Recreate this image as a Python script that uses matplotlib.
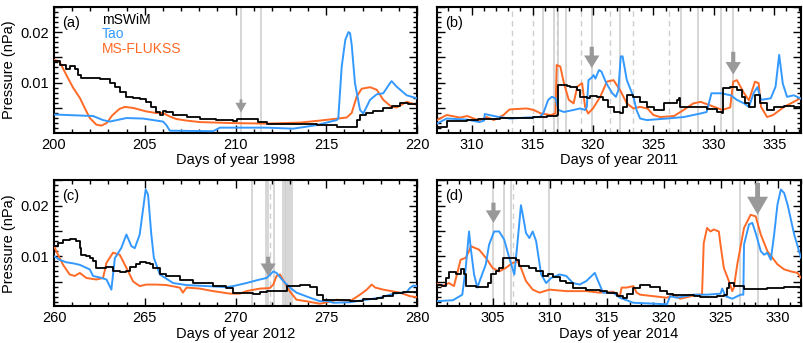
import matplotlib
matplotlib.use('Agg')
import matplotlib.pyplot as plt
from matplotlib.ticker import MultipleLocator, FuncFormatter

plt.rcParams['font.family'] = ['Liberation Sans', 'DejaVu Sans']
plt.rcParams['font.size'] = 10

BLUE = '#3399ff'
ORANGE = '#ff6a26'
GRAY = '#999999'

# ---------------- panel (a), 1998 ----------------
a_msw_day = [200.0, 200.31, 200.68, 200.86, 201.14, 201.32, 201.51, 202.52, 203.07, 203.35, 203.62, 203.99,
             204.36, 204.72, 205.09, 205.37, 205.64, 205.83, 206.01, 206.19, 206.56, 207.30, 208.03, 208.95,
             209.87, 210.06, 210.61, 211.25, 211.71, 213.55, 214.47, 215.39, 215.57, 216.49, 216.67, 216.86,
             217.2, 217.6, 218.1, 218.6, 219.06, 219.5, 220.0]
a_msw_val = [0.0142, 0.0135, 0.0128, 0.0132, 0.0128, 0.0115, 0.0109, 0.0107, 0.0099, 0.0091, 0.0082, 0.0072,
             0.0070, 0.0068, 0.0062, 0.0052, 0.0042, 0.0037, 0.0044, 0.0042, 0.0036, 0.0032, 0.0029, 0.0026,
             0.0025, 0.0029, 0.0028, 0.0023, 0.0019, 0.0018, 0.0017, 0.0016, 0.0013, 0.0013, 0.0026, 0.0036,
             0.0040, 0.0043, 0.0049, 0.0054, 0.0059, 0.0058, 0.0056]
a_tao_day = [200.0, 202.15, 202.70, 203.07, 203.99, 204.90, 205.64, 206.01, 206.19, 206.38, 208.77, 209.14,
             209.87, 211.71, 213.18, 214.47, 215.57, 215.66, 215.85, 216.05, 216.22, 216.31, 216.4, 216.58,
             216.86, 217.04, 217.41, 217.78, 218.14, 218.51, 218.60, 218.88, 219.43, 220.0]
a_tao_val = [0.0037, 0.0034, 0.0026, 0.0023, 0.0030, 0.0029, 0.0025, 0.0023, 0.0016, 0.0005, 0.0004, 0.0011,
             0.0011, 0.0011, 0.0009, 0.0016, 0.0026, 0.0029, 0.0132, 0.0185, 0.0200, 0.0198, 0.0175, 0.0099,
             0.0046, 0.0039, 0.0066, 0.0077, 0.0079, 0.0099, 0.0103, 0.0092, 0.0075, 0.0069]
a_fluk_day = [200.0, 200.3, 200.68, 201.05, 201.42, 201.69, 201.97, 202.33, 202.6, 202.9, 203.2, 203.6, 203.9,
              204.36, 205.09, 205.64, 206.01, 206.38, 206.75, 207.30, 208.03, 209.87, 211.71, 213.55, 214.65,
              215.39, 216.12, 216.40, 216.67, 216.95, 217.41, 217.78, 218.14, 218.60, 218.88, 219.43, 220.0]
a_fluk_val = [0.0145, 0.0142, 0.0115, 0.0090, 0.0070, 0.0050, 0.0030, 0.0017, 0.0015, 0.0020, 0.0035, 0.0048,
              0.0052, 0.0050, 0.0043, 0.0040, 0.0040, 0.0033, 0.0028, 0.0025, 0.0022, 0.0020, 0.0019, 0.0021,
              0.0025, 0.0028, 0.0031, 0.0040, 0.0072, 0.0088, 0.0091, 0.0086, 0.0066, 0.0052, 0.0051, 0.0062,
              0.0056]
a_lines_solid = [210.3, 211.4]
a_lines_dash = []
a_arrows = [(210.3, 0.0067, 0.0041, 'small')]

# ---------------- panel (b), 2011 ----------------
b_msw_day = [307.1, 307.9, 309.56, 310.5, 312.3, 313.14, 315.07, 316.18, 317.01, 317.14, 317.83, 318.11,
             318.39, 318.66, 318.94, 319.49, 319.77, 320.32, 320.87, 321.28, 321.70, 322.25, 322.52, 322.80,
             323.35, 323.91, 324.46, 325.01, 325.56, 325.84, 326.94, 327.08, 327.22, 328.32, 329.42, 330.25,
             330.67, 330.75, 331.35, 331.91, 332.32, 332.60, 332.87, 333.42, 333.84, 334.39, 334.94, 335.77,
             336.6, 337.15]
b_msw_val = [0.0013, 0.0025, 0.0026, 0.0029, 0.0030, 0.0031, 0.0033, 0.0034, 0.0036, 0.0095, 0.0093, 0.0091,
             0.0092, 0.0085, 0.0072, 0.0069, 0.0074, 0.0072, 0.0066, 0.0052, 0.0042, 0.0039, 0.0052, 0.0075,
             0.0072, 0.0062, 0.0052, 0.0046, 0.0046, 0.0059, 0.0066, 0.0069, 0.0052, 0.0051, 0.0047, 0.0042,
             0.0039, 0.0089, 0.0092, 0.0085, 0.0072, 0.0059, 0.0052, 0.0075, 0.0059, 0.0046, 0.0052, 0.0054,
             0.0051, 0.0049]
b_tao_day = [307.1, 307.9, 309.56, 310.6, 311.0, 311.05, 312.0, 313.14, 314.5, 315.6, 315.9, 316.3, 316.6,
             316.9, 317.15, 317.6, 318.4, 318.94, 319.35, 319.49, 319.63, 319.9, 320.05, 320.2, 320.5, 320.7,
             321.1, 321.6, 321.9, 322.1, 322.3, 322.45, 322.8, 323.35, 323.6, 323.9, 324.46, 326.1, 327.5,
             328.9, 329.4, 329.8, 330.6, 331.4, 331.9, 332.5, 332.9, 333.3, 333.6, 333.9, 334.7, 335.1, 335.4,
             335.7, 336.05, 336.6, 337.15]
b_tao_val = [0.0019, 0.0029, 0.0027, 0.0022, 0.0025, 0.0038, 0.0033, 0.0029, 0.0031, 0.0032, 0.0040, 0.0066,
             0.0072, 0.0069, 0.0046, 0.0042, 0.0046, 0.0049, 0.0046, 0.0052, 0.0105, 0.0110, 0.0115, 0.0108,
             0.0125, 0.0122, 0.0099, 0.0079, 0.0072, 0.0085, 0.0152, 0.0152, 0.0105, 0.0072, 0.0046, 0.0029,
             0.0026, 0.0029, 0.0032, 0.0039, 0.0042, 0.0079, 0.0079, 0.0075, 0.0066, 0.0059, 0.0052, 0.0080,
             0.0091, 0.0066, 0.0069, 0.0092, 0.0155, 0.0098, 0.0072, 0.0075, 0.0069]
b_fluk_day = [307.1, 307.9, 309.0, 309.6, 310.6, 311.2, 311.8, 312.6, 313.1, 314.5, 315.1, 315.7, 316.5, 316.9,
              317.0, 317.3, 317.6, 318.0, 318.4, 318.7, 319.1, 319.35, 319.6, 320.0, 320.6, 321.15, 321.7,
              322.25, 322.8, 323.35, 323.9, 324.5, 325.0, 325.56, 326.7, 327.5, 328.3, 328.9, 329.7, 330.7,
              331.35, 331.6, 331.9, 332.2, 332.5, 332.9, 333.4, 333.7, 333.9, 334.4, 334.9, 335.8, 336.6, 337.15]
b_fluk_val = [0.0026, 0.0036, 0.0031, 0.0034, 0.0025, 0.0032, 0.0026, 0.0036, 0.0047, 0.0049, 0.0046, 0.0039,
              0.0036, 0.0039, 0.0135, 0.0132, 0.0099, 0.0066, 0.0059, 0.0092, 0.0099, 0.0052, 0.0039, 0.0049,
              0.0072, 0.0102, 0.0105, 0.0085, 0.0059, 0.0049, 0.0052, 0.0049, 0.0036, 0.0032, 0.0034, 0.0046,
              0.0059, 0.0062, 0.0055, 0.0046, 0.0051, 0.0102, 0.0105, 0.0092, 0.0079, 0.0065, 0.0102, 0.0099,
              0.0052, 0.0032, 0.0036, 0.0052, 0.0062, 0.0069]
b_lines_solid = [315.85, 316.8, 317.1, 317.8, 319.9, 322.2, 327.3, 328.7, 330.6, 331.6]
b_lines_dash = [313.3, 315.0, 317.0, 319.0, 321.4, 323.35, 326.3]
b_arrows = [(319.9, 0.0171, 0.0129, 'mid'), (331.6, 0.0161, 0.0116, 'mid')]

# ---------------- panel (c), 2012 ----------------
c_msw_day = [260.0, 260.22, 260.50, 260.86, 261.23, 261.42, 261.51, 261.78, 261.97, 262.15, 262.33, 262.89,
             263.25, 263.62, 263.99, 264.17, 264.54, 264.72, 265.09, 265.28, 265.46, 265.83, 266.19, 266.93,
             267.67, 268.77, 269.50, 269.87, 270.97, 271.34, 271.71, 272.63, 272.81, 273.55, 274.10, 274.47,
             274.83, 275.20, 276.30, 277.04, 277.78, 278.14, 278.70, 279.25, 280.0]
c_msw_val = [0.0120, 0.0126, 0.0133, 0.0134, 0.0130, 0.0116, 0.0102, 0.0100, 0.0097, 0.0090, 0.0077, 0.0078,
             0.0070, 0.0069, 0.0070, 0.0079, 0.0084, 0.0088, 0.0087, 0.0084, 0.0077, 0.0064, 0.0061, 0.0054,
             0.0047, 0.0041, 0.0037, 0.0028, 0.0026, 0.0029, 0.0031, 0.0031, 0.0041, 0.0043, 0.0039, 0.0024,
             0.0014, 0.0013, 0.0011, 0.0016, 0.0018, 0.0021, 0.0028, 0.0029, 0.0030]
c_tao_day = [260.0, 260.31, 260.68, 261.05, 261.42, 261.78, 261.97, 262.15, 262.52, 262.89, 263.16, 263.35,
             263.7, 263.99, 264.26, 264.45, 264.72, 265.05, 265.18, 265.36, 265.5, 265.83, 266.56, 267.3, 268.4,
             269.5, 269.87, 270.6, 271.34, 271.71, 272.08, 272.26, 272.63, 273.0, 273.36, 274.1, 274.65, 275.0,
             275.39, 276.3, 277.2, 277.96, 278.7, 279.43, 279.6, 279.8, 280.0]
c_tao_val = [0.0100, 0.0093, 0.0088, 0.0086, 0.0083, 0.0077, 0.0074, 0.0061, 0.0058, 0.0054, 0.0034, 0.0096,
             0.0116, 0.0143, 0.0120, 0.0116, 0.0143, 0.0232, 0.0222, 0.0143, 0.0097, 0.0064, 0.0047, 0.0043,
             0.0041, 0.0039, 0.0041, 0.0047, 0.0054, 0.0057, 0.0070, 0.0067, 0.0051, 0.0038, 0.0028, 0.0018,
             0.0011, 0.0012, 0.0008, 0.0009, 0.0014, 0.0018, 0.0026, 0.0029, 0.0037, 0.0042, 0.0041]
c_fluk_day = [260.0, 260.22, 260.50, 260.86, 261.14, 261.42, 261.78, 262.33, 262.70, 262.89, 263.25, 263.62,
              263.99, 264.36, 264.72, 265.09, 265.64, 266.19, 266.93, 267.1, 267.3, 268.03, 268.77, 269.7,
              270.24, 270.6, 271.34, 271.89, 272.08, 272.26, 272.45, 272.72, 273.0, 273.36, 273.9, 274.65,
              275.39, 275.57, 276.3, 276.86, 277.23, 277.5, 277.7, 278.14, 279.06, 279.61, 280.0]
c_fluk_val = [0.0120, 0.0103, 0.0083, 0.0064, 0.0061, 0.0067, 0.0057, 0.0054, 0.0057, 0.0087, 0.0107, 0.0103,
              0.0077, 0.0050, 0.0041, 0.0044, 0.0044, 0.0043, 0.0038, 0.0028, 0.0038, 0.0036, 0.0031, 0.0026,
              0.0026, 0.0031, 0.0036, 0.0037, 0.0044, 0.0061, 0.0064, 0.0047, 0.0030, 0.0014, 0.0011, 0.0006,
              0.0012, 0.0014, 0.0011, 0.0024, 0.0034, 0.0044, 0.0038, 0.0034, 0.0028, 0.0021, 0.0019]
c_lines_solid = [270.9, 271.66, 271.77, 272.1, 272.6, 272.7, 272.8, 272.9, 273.0, 273.1]
c_lines_dash = [271.9]
c_arrows = [(271.8, 0.0099, 0.0061, 'mid')]

# ---------------- panel (d), 2014 ----------------
d_msw_day = [300.0, 300.56, 300.85, 301.15, 301.73, 302.17, 302.47, 302.62, 303.50, 304.08, 304.53, 304.82,
             305.26, 305.55, 305.85, 306.43, 307.02, 307.32, 307.76, 308.20, 308.79, 309.37, 309.81, 310.26,
             310.84, 311.43, 312.02, 313.19, 314.37, 314.96, 315.84, 316.43, 316.72, 317.31, 317.90, 318.78,
             319.66, 320.25, 320.83, 322.60, 323.19, 324.65, 325.24, 325.54, 325.68, 326.12, 327.01, 329.06,
             330.53, 332.0]
d_msw_val = [0.0044, 0.0041, 0.0057, 0.0069, 0.0064, 0.0074, 0.0065, 0.0041, 0.0039, 0.0039, 0.0047, 0.0065,
             0.0070, 0.0077, 0.0097, 0.0097, 0.0093, 0.0080, 0.0080, 0.0077, 0.0070, 0.0061, 0.0064, 0.0059,
             0.0051, 0.0047, 0.0037, 0.0034, 0.0032, 0.0028, 0.0021, 0.0018, 0.0026, 0.0037, 0.0043, 0.0039,
             0.0031, 0.0026, 0.0023, 0.0021, 0.0020, 0.0021, 0.0023, 0.0038, 0.0047, 0.0041, 0.0036, 0.0038,
             0.0039, 0.0041]
d_tao_day = [300.0, 301.5, 302.32, 302.62, 302.91, 303.06, 303.35, 303.64, 303.94, 304.38, 304.67, 305.11,
             305.55, 305.99, 306.43, 306.88, 307.17, 307.46, 307.67, 307.90, 308.20, 308.49, 308.79, 309.23,
             309.67, 310.11, 310.84, 311.43, 312.02, 312.61, 313.19, 313.93, 314.22, 314.66, 315.55, 316.13,
             317.31, 320.25, 320.54, 321.13, 322.60, 323.77, 324.95, 325.10, 325.39, 325.98, 326.71, 326.95,
             327.01, 327.45, 327.74, 328.03, 328.48, 328.77, 329.06, 329.36, 329.65, 329.94, 330.24, 330.53,
             330.83, 331.41, 332.0]
d_tao_val = [0.0011, 0.0013, 0.0024, 0.0077, 0.0149, 0.0116, 0.0064, 0.0038, 0.0057, 0.0084, 0.0123, 0.0149,
             0.0149, 0.0133, 0.0097, 0.0064, 0.0130, 0.0201, 0.0176, 0.0146, 0.0136, 0.0149, 0.0130, 0.0064,
             0.0047, 0.0057, 0.0064, 0.0061, 0.0047, 0.0044, 0.0051, 0.0067, 0.0051, 0.0028, 0.0028, 0.0018,
             0.0008, 0.0005, 0.0021, 0.0018, 0.0024, 0.0024, 0.0026, 0.0036, 0.0021, 0.0016, 0.0024, 0.0024,
             0.0123, 0.0163, 0.0166, 0.0146, 0.0110, 0.0103, 0.0107, 0.0093, 0.0143, 0.0202, 0.0232, 0.0225,
             0.0202, 0.0143, 0.0097]
d_fluk_day = [300.0, 300.56, 301.15, 301.59, 302.17, 302.62, 302.91, 303.06, 303.79, 304.38, 304.97, 305.55,
              306.14, 306.73, 307.17, 307.46, 307.90, 308.49, 309.08, 309.96, 311.43, 313.19, 314.37, 315.55,
              316.13, 316.28, 316.72, 317.31, 317.60, 317.90, 319.07, 320.25, 320.83, 321.42, 322.01, 322.89,
              323.33, 323.48, 323.77, 324.07, 324.36, 324.80, 324.95, 325.24, 325.68, 325.98, 326.12, 326.42,
              327.01, 327.59, 328.03, 328.48, 329.06, 329.94, 330.53, 331.12, 331.71, 332.0]
d_fluk_val = [0.0047, 0.0041, 0.0047, 0.0041, 0.0093, 0.0097, 0.0110, 0.0120, 0.0113, 0.0097, 0.0077, 0.0070,
              0.0077, 0.0087, 0.0090, 0.0077, 0.0051, 0.0034, 0.0028, 0.0034, 0.0031, 0.0031, 0.0028, 0.0030,
              0.0021, 0.0038, 0.0038, 0.0041, 0.0028, 0.0024, 0.0021, 0.0018, 0.0024, 0.0016, 0.0019, 0.0024,
              0.0024, 0.0126, 0.0156, 0.0149, 0.0153, 0.0149, 0.0123, 0.0077, 0.0051, 0.0031, 0.0038, 0.0084,
              0.0156, 0.0182, 0.0179, 0.0143, 0.0110, 0.0084, 0.0074, 0.0070, 0.0067, 0.0057]
d_lines_solid = [305.05, 306.0, 306.6, 309.9, 326.7, 328.2]
d_lines_dash = [306.75]
d_arrows = [(305.05, 0.0206, 0.0166, 'mid'), (328.2, 0.0245, 0.0182, 'big')]

arrow_sizes = {'small': (2, 8, 7), 'mid': (3, 11, 9), 'big': (3.5, 15, 13)}

fig = plt.figure(figsize=(8.04, 3.43), dpi=100)
H = 0.367
ax_a = fig.add_axes([0.0672, 0.6131, 0.4515, H])
ax_b = fig.add_axes([0.5435, 0.6131, 0.4527, H])
ax_c = fig.add_axes([0.0672, 0.1070, 0.4515, H])
ax_d = fig.add_axes([0.5435, 0.1070, 0.4527, H])

panels = [
    (ax_a, '(a)', 1998, (200, 220), a_msw_day, a_msw_val, a_tao_day, a_tao_val, a_fluk_day, a_fluk_val,
     a_lines_solid, a_lines_dash, a_arrows),
    (ax_b, '(b)', 2011, (307.1, 337.2), b_msw_day, b_msw_val, b_tao_day, b_tao_val, b_fluk_day, b_fluk_val,
     b_lines_solid, b_lines_dash, b_arrows),
    (ax_c, '(c)', 2012, (260, 280), c_msw_day, c_msw_val, c_tao_day, c_tao_val, c_fluk_day, c_fluk_val,
     c_lines_solid, c_lines_dash, c_arrows),
    (ax_d, '(d)', 2014, (300.1, 332), d_msw_day, d_msw_val, d_tao_day, d_tao_val, d_fluk_day, d_fluk_val,
     d_lines_solid, d_lines_dash, d_arrows),
]

for (ax, tag, year, xl, md, mv, td, tv, fd, fv, ls, ld, arrs) in panels:
    for x in ls:
        ax.axvline(x, color='#cfcfcf', lw=1.2, zorder=1)
    for x in ld:
        ax.axvline(x, color='#cfcfcf', lw=1.0, ls=(0, (4, 3)), zorder=1)
    for (x, y0, y1, size) in arrs:
        w, hw, hl = arrow_sizes[size]
        ax.annotate('', xy=(x, y1), xytext=(x, y0),
                    arrowprops=dict(facecolor=GRAY, edgecolor='none', width=w,
                                    headwidth=hw, headlength=hl, shrink=0), zorder=5)
    ax.plot(fd, fv, color=ORANGE, lw=1.4, zorder=3)
    ax.plot(td, tv, color=BLUE, lw=1.4, zorder=3)
    ax.plot(md, mv, color='black', lw=1.3, drawstyle='steps-post', zorder=4)

    ax.set_xlim(*xl)
    ax.set_ylim(0.0001, 0.025)
    ax.xaxis.set_major_locator(MultipleLocator(5))
    ax.xaxis.set_minor_locator(MultipleLocator(1))
    ax.yaxis.set_major_locator(MultipleLocator(0.005))
    ax.yaxis.set_minor_locator(MultipleLocator(0.001))
    ax.tick_params(which='both', direction='in', top=True, right=True, width=1, labelsize=10.5)
    ax.tick_params(which='major', length=6)
    ax.tick_params(which='minor', length=3)
    for sp in ax.spines.values():
        sp.set_linewidth(1.5)
    ax.set_xlabel('Days of year %d' % year, fontsize=10.5, labelpad=1)
    ax.text(0.022, 0.93, tag, transform=ax.transAxes, ha='left', va='top', fontsize=10.5)

for ax in (ax_a, ax_c):
    ax.yaxis.set_major_formatter(FuncFormatter(
        lambda v, p: ('%.2f' % v) if abs(round(v * 100) - v * 100) < 1e-6 and v > 0.001 else ''))
    ax.set_ylabel('Pressure (nPa)', fontsize=10.5, labelpad=3)
for ax in (ax_b, ax_d):
    ax.set_yticklabels([])

ax_a.text(0.132, 0.895, 'mSWiM', transform=ax_a.transAxes, color='black', va='center', fontsize=10)
ax_a.text(0.132, 0.785, 'Tao', transform=ax_a.transAxes, color=BLUE, va='center', fontsize=10)
ax_a.text(0.132, 0.665, 'MS-FLUKSS', transform=ax_a.transAxes, color=ORANGE, va='center', fontsize=10)

fig.savefig('out.png', dpi=100)
